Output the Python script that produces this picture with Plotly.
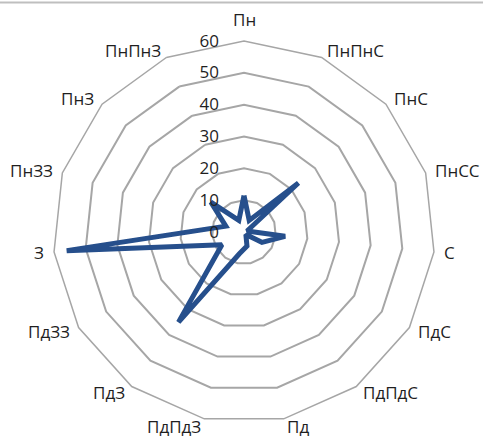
import math
import plotly.graph_objects as go

categories = ["Пн", "ПнПнС", "ПнС", "ПнСС", "С", "ПдС", "ПдПдС", "Пд",
              "ПдПдЗ", "ПдЗ", "ПдЗЗ", "З", "ПнЗЗ", "ПнЗ", "ПнПнЗ"]
values = [11.5, 4, 23, 1, 13, 6.5, 1, 4.5, 7, 35, 8, 56, 6, 14, 4]
radial_ticks = [0, 10, 20, 30, 40, 50, 60]

theta = categories + categories[:1]
r = values + values[:1]

W, H = 483, 441
ML, MR, MT, MB = 53, 48, 41, 18
side = W - ML - MR  # square polar area

fig = go.Figure()
fig.add_trace(go.Scatterpolar(
    r=r, theta=theta, mode="lines",
    line=dict(color="#264F8C", width=5, shape="linear"),
    hoverinfo="skip", showlegend=False,
))

font = "Open Sans, Noto Sans, sans-serif"
txt_color = "#1F1F1F"

# category labels placed just outside the outer polygon, along each spoke
annotations = []
n = len(categories)
k = (side / 2 + 8) / (side / 2)
for i, name in enumerate(categories):
    a = 2 * math.pi * i / n
    s, c = math.sin(a), math.cos(a)
    if abs(s) < 1e-6:
        xa, ya = "center", ("bottom" if c > 0 else "top")
    else:
        xa, ya = ("left" if s > 0 else "right"), "middle"
    annotations.append(dict(
        text=name, xref="paper", yref="paper",
        x=0.5 + 0.5 * k * s, y=0.5 + 0.5 * k * c,
        xanchor=xa, yanchor=ya, showarrow=False,
        font=dict(family=font, size=17, color=txt_color),
    ))

pad = "\u00a0" * 5
fig.update_layout(
    width=W, height=H,
    margin=dict(l=ML, r=MR, t=MT, b=MB, autoexpand=False),
    paper_bgcolor="white", plot_bgcolor="white",
    font=dict(family=font, size=17, color=txt_color),
    showlegend=False,
    polar=dict(
        domain=dict(x=[0, 1], y=[0, 1]),
        gridshape="linear",
        bgcolor="white",
        angularaxis=dict(
            categoryorder="array", categoryarray=categories,
            rotation=90, direction="clockwise",
            showgrid=False, showline=True, linecolor="#A6A6A6", linewidth=1.5,
            ticks="", showticklabels=False,
        ),
        radialaxis=dict(
            range=[0, 60], tickvals=radial_ticks,
            ticktext=[str(v) + pad for v in radial_ticks],
            angle=90, tickangle=90, side="counterclockwise",
            showline=False, gridcolor="#A6A6A6", gridwidth=1.5,
            ticks="", tickfont=dict(size=17, color=txt_color),
        ),
    ),
    annotations=annotations,
    shapes=[dict(type="line", xref="paper", yref="paper", x0=-0.2, x1=1.2,
                 y0=(H - MB - 2.5) / side, y1=(H - MB - 2.5) / side,
                 line=dict(color="#BFBFBF", width=2))],
)

fig.write_html("out.html", config={"displayModeBar": False},
               post_script="document.body.style.margin='0';")
